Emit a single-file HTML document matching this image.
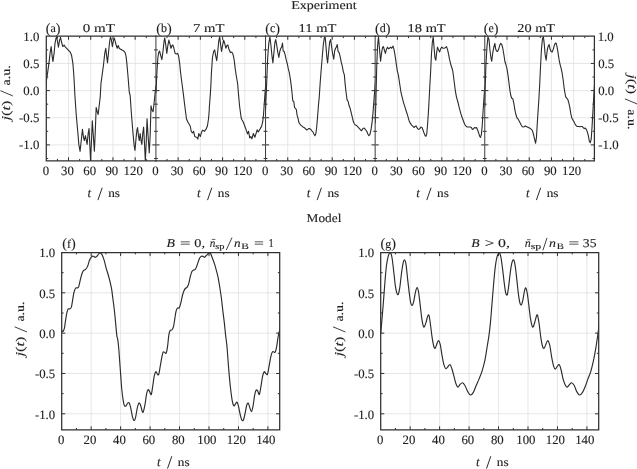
<!DOCTYPE html>
<html><head><meta charset="utf-8"><style>html,body{margin:0;padding:0;background:#fff;width:637px;height:469px;overflow:hidden}</style></head>
<body><svg width="637" height="469" viewBox="0 0 637 469" style="display:block;will-change:transform"><g font-family='"Liberation Serif", serif' fill="#1e1e1e" stroke="#1e1e1e" stroke-width="0.12" text-rendering="geometricPrecision"><path d="M68.52 36.20V160.85M90.74 36.20V160.85M112.96 36.20V160.85M135.18 36.20V160.85M46.30 63.45H155.92M46.30 90.60H155.92M46.30 117.75H155.92M46.30 144.90H155.92" stroke="#e1e1e1" stroke-width="0.85" fill="none"/><clipPath id="ct0"><rect x="46.30" y="33.20" width="109.62" height="127.65"/></clipPath><polyline clip-path="url(#ct0)" points="46.30,86.26 46.37,81.10 47.78,71.59 49.11,61.82 50.15,52.59 51.19,46.62 52.08,55.85 52.97,61.55 54.15,52.59 55.04,43.03 56.08,37.93 56.74,36.84 57.63,42.27 58.45,47.16 59.48,40.64 60.52,37.39 61.56,42.27 62.82,46.62 64.15,44.99 65.41,47.16 67.63,49.33 70.22,52.05 71.56,55.30 72.82,62.91 73.70,73.22 74.52,87.34 74.89,95.49 76.22,114.49 77.63,130.24 78.82,144.36 80.07,151.42 81.26,140.56 82.44,129.42 83.48,137.30 84.37,140.56 85.41,135.67 86.30,140.01 87.11,144.36 88.15,133.50 89.04,128.61 89.70,142.46 90.59,161.19 91.41,142.46 92.30,120.74 93.18,133.50 94.37,151.14 95.41,128.61 96.15,107.43 97.11,111.23 98.15,114.49 99.18,105.80 100.22,97.12 100.96,83.54 102.15,74.85 103.55,64.54 104.74,53.40 105.78,48.25 106.44,54.22 107.48,62.91 108.52,52.59 109.55,42.27 110.44,36.84 111.33,39.56 112.37,46.62 113.41,40.64 114.22,37.93 115.11,41.19 116.15,44.99 117.18,48.25 118.22,45.53 119.26,48.25 120.66,49.33 122.00,49.88 123.70,50.96 125.11,52.59 126.00,55.85 126.81,62.91 128.07,77.02 129.26,92.23 130.14,95.49 131.48,114.49 132.88,131.87 134.07,144.90 134.96,150.33 135.85,140.56 136.88,130.24 137.55,127.52 138.44,135.67 139.25,140.56 140.14,133.50 141.03,140.56 141.85,144.36 142.74,133.50 143.62,126.98 144.44,142.46 145.33,161.19 146.22,142.46 147.03,118.84 147.92,133.50 149.25,153.04 150.14,135.67 151.03,105.80 152.07,110.15 153.11,111.78 154.14,102.55 155.18,92.23 155.99,85.17" stroke="#2b2b2b" stroke-width="1.1" fill="none" stroke-linejoin="round"/><path d="M57.41 160.85v-1.9M57.41 36.20v1.9M68.52 160.85v-3.6M68.52 36.20v3.6M79.63 160.85v-1.9M79.63 36.20v1.9M90.74 160.85v-3.6M90.74 36.20v3.6M101.85 160.85v-1.9M101.85 36.20v1.9M112.96 160.85v-3.6M112.96 36.20v3.6M124.07 160.85v-1.9M124.07 36.20v1.9M135.18 160.85v-3.6M135.18 36.20v3.6M146.29 160.85v-1.9M146.29 36.20v1.9M46.30 158.47h1.9M155.92 158.47h-1.9M46.30 144.90h3.6M155.92 144.90h-3.6M46.30 131.32h1.9M155.92 131.32h-1.9M46.30 117.75h3.6M155.92 117.75h-3.6M46.30 104.17h1.9M155.92 104.17h-1.9M46.30 90.60h3.6M155.92 90.60h-3.6M46.30 77.02h1.9M155.92 77.02h-1.9M46.30 63.45h3.6M155.92 63.45h-3.6M46.30 49.88h1.9M155.92 49.88h-1.9" stroke="#303030" stroke-width="1.0" fill="none"/><path d="M46.30 36.20H155.92M46.30 160.85H155.92M46.30 36.20V160.85" stroke="#303030" stroke-width="1.25" fill="none" stroke-linecap="square"/><path d="M155.92 36.20V160.85" stroke="#303030" stroke-width="0.95" fill="none"/><text x="45.90" y="175.2" text-anchor="middle" font-size="12.8">0</text><text x="67.42" y="175.2" text-anchor="middle" font-size="12.8">30</text><text x="89.64" y="175.2" text-anchor="middle" font-size="12.8">60</text><text x="111.86" y="175.2" text-anchor="middle" font-size="12.8">90</text><text x="133.18" y="175.2" text-anchor="middle" font-size="12.8">120</text><text x="87.41" y="197.30" font-size="13" font-style="italic">t</text><path d="M97.91 200.10L102.21 187.70" stroke="#1e1e1e" stroke-width="0.95"/><text x="108.21" y="197.30" font-size="12" textLength="11.8" lengthAdjust="spacingAndGlyphs">ns</text><path d="M178.14 36.20V160.85M200.36 36.20V160.85M222.58 36.20V160.85M244.80 36.20V160.85M155.92 63.45H265.54M155.92 90.60H265.54M155.92 117.75H265.54M155.92 144.90H265.54" stroke="#e1e1e1" stroke-width="0.85" fill="none"/><clipPath id="ct1"><rect x="155.92" y="33.20" width="109.62" height="127.65"/></clipPath><polyline clip-path="url(#ct1)" points="155.92,93.31 156.14,88.97 156.96,71.59 157.85,57.75 158.73,52.59 159.55,50.96 160.81,55.85 161.85,59.65 163.03,50.96 164.07,41.19 164.73,37.93 165.62,43.90 166.81,53.40 167.84,45.53 168.88,40.10 169.92,43.90 170.96,48.25 171.99,45.53 172.88,44.99 173.92,48.25 175.10,53.40 176.51,53.95 177.70,53.40 178.58,55.85 179.62,62.91 180.66,73.22 181.99,83.54 183.40,94.40 184.58,104.17 185.47,111.23 186.51,119.00 187.99,122.31 190.21,126.00 191.32,131.60 192.51,132.95 193.62,131.32 194.73,136.48 195.77,136.92 196.81,137.24 197.84,139.09 198.81,133.50 200.29,136.48 201.77,131.60 202.88,130.08 204.36,131.32 205.92,129.42 207.40,126.00 208.51,119.00 209.25,109.99 209.32,107.43 210.36,93.86 210.88,85.17 211.40,73.22 212.43,57.75 213.62,51.50 214.66,49.88 215.69,55.85 216.73,60.73 217.77,50.96 218.80,40.64 219.69,36.84 220.51,43.90 221.54,51.50 222.58,45.53 223.62,40.10 224.65,43.09 225.84,48.25 226.95,45.53 227.91,44.99 228.95,49.33 230.36,52.59 231.77,52.05 232.95,54.22 234.14,59.65 235.17,68.34 236.43,76.75 237.62,83.54 238.51,94.40 239.54,105.80 241.10,117.48 241.91,119.70 243.39,122.31 245.17,127.20 246.28,130.18 247.47,133.88 248.58,131.32 249.69,138.00 250.80,136.48 251.91,138.82 253.39,133.50 254.87,137.30 257.17,129.80 258.28,131.98 259.76,129.42 261.69,126.11 262.80,121.23 263.54,114.49 264.21,104.17 265.24,90.06 266.13,81.37" stroke="#2b2b2b" stroke-width="1.1" fill="none" stroke-linejoin="round"/><path d="M167.03 160.85v-1.9M167.03 36.20v1.9M178.14 160.85v-3.6M178.14 36.20v3.6M189.25 160.85v-1.9M189.25 36.20v1.9M200.36 160.85v-3.6M200.36 36.20v3.6M211.47 160.85v-1.9M211.47 36.20v1.9M222.58 160.85v-3.6M222.58 36.20v3.6M233.69 160.85v-1.9M233.69 36.20v1.9M244.80 160.85v-3.6M244.80 36.20v3.6M255.91 160.85v-1.9M255.91 36.20v1.9M155.92 158.47h1.9M265.54 158.47h-1.9M155.92 144.90h3.6M265.54 144.90h-3.6M155.92 131.32h1.9M265.54 131.32h-1.9M155.92 117.75h3.6M265.54 117.75h-3.6M155.92 104.17h1.9M265.54 104.17h-1.9M155.92 90.60h3.6M265.54 90.60h-3.6M155.92 77.02h1.9M265.54 77.02h-1.9M155.92 63.45h3.6M265.54 63.45h-3.6M155.92 49.88h1.9M265.54 49.88h-1.9" stroke="#303030" stroke-width="1.0" fill="none"/><path d="M155.92 36.20H265.54M155.92 160.85H265.54" stroke="#303030" stroke-width="1.25" fill="none" stroke-linecap="square"/><path d="M265.54 36.20V160.85" stroke="#303030" stroke-width="0.95" fill="none"/><text x="155.52" y="175.2" text-anchor="middle" font-size="12.8">0</text><text x="177.04" y="175.2" text-anchor="middle" font-size="12.8">30</text><text x="199.26" y="175.2" text-anchor="middle" font-size="12.8">60</text><text x="221.48" y="175.2" text-anchor="middle" font-size="12.8">90</text><text x="242.80" y="175.2" text-anchor="middle" font-size="12.8">120</text><text x="197.03" y="197.30" font-size="13" font-style="italic">t</text><path d="M207.53 200.10L211.83 187.70" stroke="#1e1e1e" stroke-width="0.95"/><text x="217.83" y="197.30" font-size="12" textLength="11.8" lengthAdjust="spacingAndGlyphs">ns</text><path d="M287.76 36.20V160.85M309.98 36.20V160.85M332.20 36.20V160.85M354.42 36.20V160.85M265.54 63.45H375.16M265.54 90.60H375.16M265.54 117.75H375.16M265.54 144.90H375.16" stroke="#e1e1e1" stroke-width="0.85" fill="none"/><clipPath id="ct2"><rect x="265.54" y="33.20" width="109.62" height="127.65"/></clipPath><polyline clip-path="url(#ct2)" points="265.17,117.75 265.59,107.98 266.65,83.54 267.69,57.75 268.72,43.90 269.91,36.84 270.95,45.53 271.98,55.85 272.87,62.91 273.91,52.59 274.95,42.27 275.76,39.56 276.80,45.53 277.84,52.59 278.87,57.48 279.91,50.96 280.80,48.25 281.61,47.16 282.50,43.09 283.17,50.96 284.21,51.50 285.24,55.30 286.28,60.19 287.32,63.99 288.35,68.88 289.39,73.22 290.28,78.65 291.17,85.17 291.98,92.23 292.57,98.74 292.87,100.92 293.76,101.46 294.57,107.43 295.46,108.52 296.35,109.60 297.17,115.58 298.06,118.29 298.94,122.64 299.76,123.72 300.65,125.08 301.83,125.89 302.87,126.98 304.06,127.52 305.31,128.61 306.65,129.97 307.68,129.42 308.72,128.61 309.76,128.61 310.80,129.42 311.83,130.78 312.87,131.87 313.91,134.04 314.94,135.67 315.83,133.77 316.72,126.98 317.54,117.21 318.42,105.80 319.24,97.12 320.13,83.54 321.16,69.97 322.20,57.75 323.24,45.53 324.28,37.93 325.16,36.84 326.05,47.16 326.87,57.75 327.61,62.91 328.57,52.59 329.61,42.27 330.65,39.56 331.68,47.16 332.72,54.22 333.76,59.11 334.65,50.96 335.53,48.25 336.35,47.16 337.24,44.45 338.13,51.50 339.16,52.59 340.20,56.93 341.24,62.09 342.27,66.16 343.31,71.59 344.35,74.85 345.16,84.08 346.05,92.23 347.09,99.83 348.13,101.46 349.16,105.80 350.20,108.52 351.24,112.86 352.27,117.21 353.31,121.55 354.35,123.72 355.38,125.08 356.42,125.35 357.46,126.44 358.49,127.52 359.53,128.61 360.57,129.97 361.61,130.78 362.64,128.88 363.68,128.07 364.72,128.61 365.75,129.97 366.79,131.32 367.83,134.04 368.86,135.67 369.90,134.58 370.94,130.24 371.98,123.18 373.01,112.86 374.05,98.74 375.09,85.17 375.90,74.31" stroke="#2b2b2b" stroke-width="1.1" fill="none" stroke-linejoin="round"/><path d="M276.65 160.85v-1.9M276.65 36.20v1.9M287.76 160.85v-3.6M287.76 36.20v3.6M298.87 160.85v-1.9M298.87 36.20v1.9M309.98 160.85v-3.6M309.98 36.20v3.6M321.09 160.85v-1.9M321.09 36.20v1.9M332.20 160.85v-3.6M332.20 36.20v3.6M343.31 160.85v-1.9M343.31 36.20v1.9M354.42 160.85v-3.6M354.42 36.20v3.6M365.53 160.85v-1.9M365.53 36.20v1.9M265.54 158.47h1.9M375.16 158.47h-1.9M265.54 144.90h3.6M375.16 144.90h-3.6M265.54 131.32h1.9M375.16 131.32h-1.9M265.54 117.75h3.6M375.16 117.75h-3.6M265.54 104.17h1.9M375.16 104.17h-1.9M265.54 90.60h3.6M375.16 90.60h-3.6M265.54 77.02h1.9M375.16 77.02h-1.9M265.54 63.45h3.6M375.16 63.45h-3.6M265.54 49.88h1.9M375.16 49.88h-1.9" stroke="#303030" stroke-width="1.0" fill="none"/><path d="M265.54 36.20H375.16M265.54 160.85H375.16" stroke="#303030" stroke-width="1.25" fill="none" stroke-linecap="square"/><path d="M375.16 36.20V160.85" stroke="#303030" stroke-width="0.95" fill="none"/><text x="265.14" y="175.2" text-anchor="middle" font-size="12.8">0</text><text x="286.66" y="175.2" text-anchor="middle" font-size="12.8">30</text><text x="308.88" y="175.2" text-anchor="middle" font-size="12.8">60</text><text x="331.10" y="175.2" text-anchor="middle" font-size="12.8">90</text><text x="352.42" y="175.2" text-anchor="middle" font-size="12.8">120</text><text x="306.65" y="197.30" font-size="13" font-style="italic">t</text><path d="M317.15 200.10L321.45 187.70" stroke="#1e1e1e" stroke-width="0.95"/><text x="327.45" y="197.30" font-size="12" textLength="11.8" lengthAdjust="spacingAndGlyphs">ns</text><path d="M397.38 36.20V160.85M419.60 36.20V160.85M441.82 36.20V160.85M464.04 36.20V160.85M375.16 63.45H484.78M375.16 90.60H484.78M375.16 117.75H484.78M375.16 144.90H484.78" stroke="#e1e1e1" stroke-width="0.85" fill="none"/><clipPath id="ct3"><rect x="375.16" y="33.20" width="109.62" height="127.65"/></clipPath><polyline clip-path="url(#ct3)" points="375.16,123.18 375.90,100.92 376.72,66.16 377.60,45.53 378.49,36.84 379.53,49.33 380.57,61.28 381.60,52.59 382.64,47.16 383.46,46.62 384.34,49.88 385.38,53.40 386.42,49.33 387.46,47.16 388.49,48.79 389.53,48.25 390.57,47.16 391.75,48.25 393.01,46.07 393.97,49.33 394.86,54.22 395.75,60.19 396.57,66.16 397.45,71.59 398.34,74.85 399.16,80.28 400.05,86.26 400.94,92.23 402.12,97.12 403.53,102.55 405.08,107.43 406.42,111.78 407.82,116.12 409.01,120.47 410.27,123.18 411.60,125.08 413.01,126.44 414.19,127.52 415.08,126.44 415.97,125.89 416.79,127.25 417.82,128.88 418.86,129.42 419.90,128.61 420.93,126.98 421.97,127.52 423.01,129.97 424.04,132.95 425.08,135.67 425.97,136.21 426.79,133.77 427.67,123.18 428.56,109.60 429.01,101.46 429.75,87.34 430.64,71.59 431.45,54.22 432.34,42.27 433.23,36.84 434.04,47.16 434.93,57.75 435.82,60.19 436.64,52.59 437.52,47.16 438.56,49.88 439.60,52.05 440.64,48.79 441.82,47.16 443.01,48.25 444.12,48.25 445.30,47.70 446.49,46.62 447.52,49.33 448.56,54.22 449.60,59.65 450.63,63.99 451.67,67.25 452.71,70.51 453.60,77.02 454.41,83.54 455.30,90.60 456.49,97.12 457.89,102.00 459.30,107.98 460.63,112.86 462.04,117.21 463.45,121.01 464.63,124.27 465.82,125.89 466.86,126.98 468.04,126.98 469.08,126.98 470.34,126.98 471.37,127.52 472.41,129.42 473.45,128.88 474.48,127.52 475.52,128.07 476.56,127.52 477.60,129.97 478.63,132.95 479.67,136.21 480.48,137.30 481.37,134.58 482.26,125.08 483.08,111.23 484.11,95.49 485.00,85.17" stroke="#2b2b2b" stroke-width="1.1" fill="none" stroke-linejoin="round"/><path d="M386.27 160.85v-1.9M386.27 36.20v1.9M397.38 160.85v-3.6M397.38 36.20v3.6M408.49 160.85v-1.9M408.49 36.20v1.9M419.60 160.85v-3.6M419.60 36.20v3.6M430.71 160.85v-1.9M430.71 36.20v1.9M441.82 160.85v-3.6M441.82 36.20v3.6M452.93 160.85v-1.9M452.93 36.20v1.9M464.04 160.85v-3.6M464.04 36.20v3.6M475.15 160.85v-1.9M475.15 36.20v1.9M375.16 158.47h1.9M484.78 158.47h-1.9M375.16 144.90h3.6M484.78 144.90h-3.6M375.16 131.32h1.9M484.78 131.32h-1.9M375.16 117.75h3.6M484.78 117.75h-3.6M375.16 104.17h1.9M484.78 104.17h-1.9M375.16 90.60h3.6M484.78 90.60h-3.6M375.16 77.02h1.9M484.78 77.02h-1.9M375.16 63.45h3.6M484.78 63.45h-3.6M375.16 49.88h1.9M484.78 49.88h-1.9" stroke="#303030" stroke-width="1.0" fill="none"/><path d="M375.16 36.20H484.78M375.16 160.85H484.78" stroke="#303030" stroke-width="1.25" fill="none" stroke-linecap="square"/><path d="M484.78 36.20V160.85" stroke="#303030" stroke-width="0.95" fill="none"/><text x="374.76" y="175.2" text-anchor="middle" font-size="12.8">0</text><text x="396.28" y="175.2" text-anchor="middle" font-size="12.8">30</text><text x="418.50" y="175.2" text-anchor="middle" font-size="12.8">60</text><text x="440.72" y="175.2" text-anchor="middle" font-size="12.8">90</text><text x="462.04" y="175.2" text-anchor="middle" font-size="12.8">120</text><text x="416.27" y="197.30" font-size="13" font-style="italic">t</text><path d="M426.77 200.10L431.07 187.70" stroke="#1e1e1e" stroke-width="0.95"/><text x="437.07" y="197.30" font-size="12" textLength="11.8" lengthAdjust="spacingAndGlyphs">ns</text><path d="M507.00 36.20V160.85M529.22 36.20V160.85M551.44 36.20V160.85M573.66 36.20V160.85M484.78 63.45H594.40M484.78 90.60H594.40M484.78 117.75H594.40M484.78 144.90H594.40" stroke="#e1e1e1" stroke-width="0.85" fill="none"/><clipPath id="ct4"><rect x="484.78" y="33.20" width="109.62" height="127.65"/></clipPath><polyline clip-path="url(#ct4)" points="484.78,106.89 485.00,92.23 485.89,66.16 486.93,47.16 487.96,36.84 489.00,39.56 490.04,50.96 491.08,58.56 491.74,61.28 492.78,52.59 493.82,47.16 494.85,43.36 495.74,49.33 496.56,50.96 497.59,51.50 498.63,49.33 499.67,45.53 500.70,43.36 501.74,44.45 502.78,48.25 503.82,54.22 504.85,61.28 505.89,64.54 506.93,68.34 507.96,74.85 509.00,83.00 510.04,91.14 510.93,96.03 511.74,98.20 512.78,98.74 513.81,103.09 514.85,109.60 515.89,114.49 516.93,117.75 517.96,118.84 519.00,120.74 520.04,122.64 521.07,124.81 522.11,126.44 523.15,126.98 524.18,126.71 525.22,125.89 526.26,126.44 527.29,126.98 528.33,127.52 529.37,128.07 530.41,128.61 531.44,129.42 532.48,130.78 533.52,134.58 534.55,138.93 535.59,143.27 536.48,137.30 537.29,123.18 538.18,109.60 538.92,98.74 539.74,83.54 540.63,64.54 541.44,49.33 542.48,38.74 543.37,36.84 544.26,43.90 545.07,54.22 546.11,60.19 547.14,50.96 548.03,46.62 549.07,44.45 550.11,49.33 551.14,51.50 552.18,52.05 553.22,49.33 554.26,45.53 555.29,43.36 556.11,43.09 557.00,46.62 558.03,52.59 559.07,59.65 560.11,64.54 561.14,68.34 562.18,73.22 563.22,80.28 564.25,88.97 564.92,92.77 565.66,96.84 566.70,98.20 567.74,99.29 568.77,102.55 569.81,107.43 570.85,113.95 571.88,118.29 572.92,119.92 573.88,121.55 574.92,123.72 575.96,125.35 576.99,126.44 578.03,126.44 579.07,126.44 580.10,126.71 581.14,126.44 582.18,126.44 583.22,127.52 584.25,128.61 585.29,128.07 586.33,129.42 587.36,131.87 588.40,136.21 589.44,141.64 590.33,142.73 591.22,138.93 592.03,126.98 592.92,111.23 593.81,95.49 594.47,85.17" stroke="#2b2b2b" stroke-width="1.1" fill="none" stroke-linejoin="round"/><path d="M495.89 160.85v-1.9M495.89 36.20v1.9M507.00 160.85v-3.6M507.00 36.20v3.6M518.11 160.85v-1.9M518.11 36.20v1.9M529.22 160.85v-3.6M529.22 36.20v3.6M540.33 160.85v-1.9M540.33 36.20v1.9M551.44 160.85v-3.6M551.44 36.20v3.6M562.55 160.85v-1.9M562.55 36.20v1.9M573.66 160.85v-3.6M573.66 36.20v3.6M584.77 160.85v-1.9M584.77 36.20v1.9M484.78 158.47h1.9M594.40 158.47h-1.9M484.78 144.90h3.6M594.40 144.90h-3.6M484.78 131.32h1.9M594.40 131.32h-1.9M484.78 117.75h3.6M594.40 117.75h-3.6M484.78 104.17h1.9M594.40 104.17h-1.9M484.78 90.60h3.6M594.40 90.60h-3.6M484.78 77.02h1.9M594.40 77.02h-1.9M484.78 63.45h3.6M594.40 63.45h-3.6M484.78 49.88h1.9M594.40 49.88h-1.9" stroke="#303030" stroke-width="1.0" fill="none"/><path d="M484.78 36.20H594.40M484.78 160.85H594.40M594.40 36.20V160.85" stroke="#303030" stroke-width="1.25" fill="none" stroke-linecap="square"/><text x="484.38" y="175.2" text-anchor="middle" font-size="12.8">0</text><text x="505.90" y="175.2" text-anchor="middle" font-size="12.8">30</text><text x="528.12" y="175.2" text-anchor="middle" font-size="12.8">60</text><text x="550.34" y="175.2" text-anchor="middle" font-size="12.8">90</text><text x="571.66" y="175.2" text-anchor="middle" font-size="12.8">120</text><text x="525.89" y="197.30" font-size="13" font-style="italic">t</text><path d="M536.39 200.10L540.69 187.70" stroke="#1e1e1e" stroke-width="0.95"/><text x="546.69" y="197.30" font-size="12" textLength="11.8" lengthAdjust="spacingAndGlyphs">ns</text><text x="291.21" y="9.40" font-size="12" textLength="65.47" lengthAdjust="spacingAndGlyphs">Experiment</text><text x="82.87" y="32.00" font-size="12" textLength="32.14" lengthAdjust="spacingAndGlyphs">0 mT</text><text x="192.98" y="32.00" font-size="12" textLength="31.43" lengthAdjust="spacingAndGlyphs">7 mT</text><text x="298.59" y="32.00" font-size="12" textLength="37.77" lengthAdjust="spacingAndGlyphs">11 mT</text><text x="407.60" y="32.00" font-size="12" textLength="38.11" lengthAdjust="spacingAndGlyphs">18 mT</text><text x="517.30" y="32.00" font-size="12" textLength="37.70" lengthAdjust="spacingAndGlyphs">20 mT</text><text x="45.80" y="32.60" font-size="14.2">(<tspan font-size="12" dy="-0.6">a</tspan><tspan dy="0.6">)</tspan></text><text x="156.20" y="32.60" font-size="14.2">(<tspan font-size="12" dy="-0.6">b</tspan><tspan dy="0.6">)</tspan></text><text x="265.30" y="32.60" font-size="14.2">(<tspan font-size="12" dy="-0.6">c</tspan><tspan dy="0.6">)</tspan></text><text x="374.90" y="32.60" font-size="14.2">(<tspan font-size="12" dy="-0.6">d</tspan><tspan dy="0.6">)</tspan></text><text x="483.70" y="32.60" font-size="14.2">(<tspan font-size="12" dy="-0.6">e</tspan><tspan dy="0.6">)</tspan></text><text x="39.30" y="40.65" text-anchor="end" font-size="12.8">1.0</text><text x="597.70" y="40.65" font-size="12.8">1.0</text><text x="39.30" y="67.80" text-anchor="end" font-size="12.8">0.5</text><text x="598.20" y="67.80" font-size="12.8">0.5</text><text x="39.30" y="94.95" text-anchor="end" font-size="12.8">0.0</text><text x="598.20" y="94.95" font-size="12.8">0.0</text><text x="39.30" y="122.10" text-anchor="end" font-size="12.8">-0.5</text><text x="598.35" y="122.10" font-size="12.8">-0.5</text><text x="39.30" y="149.25" text-anchor="end" font-size="12.8">-1.0</text><text x="598.35" y="149.25" font-size="12.8">-1.0</text><g transform="translate(10.00,120.80) rotate(-90)"><text x="0.3" y="0" font-size="12" textLength="20.0" lengthAdjust="spacingAndGlyphs"><tspan font-style="italic">j</tspan>(<tspan font-style="italic">t</tspan>)</text><path d="M24.9 2.8L30.1 -9.6" stroke="#1e1e1e" stroke-width="0.85"/><text x="35.3" y="0" font-size="12" textLength="20.2" lengthAdjust="spacingAndGlyphs">a.u.</text></g><g transform="translate(627.80,74.00) rotate(90)"><text x="0.3" y="0" font-size="12" textLength="20.0" lengthAdjust="spacingAndGlyphs"><tspan font-style="italic">j</tspan>(<tspan font-style="italic">t</tspan>)</text><path d="M24.9 2.8L30.1 -9.6" stroke="#1e1e1e" stroke-width="0.85"/><text x="35.3" y="0" font-size="12" textLength="20.2" lengthAdjust="spacingAndGlyphs">a.u.</text></g><text x="306.62" y="222.10" font-size="12" textLength="34.78" lengthAdjust="spacingAndGlyphs">Model</text><path d="M91.16 252.50V429.90M120.62 252.50V429.90M150.08 252.50V429.90M179.54 252.50V429.90M209.00 252.50V429.90M238.46 252.50V429.90M267.92 252.50V429.90M61.70 292.82H279.70M61.70 333.15H279.70M61.70 373.47H279.70M61.70 413.80H279.70" stroke="#e1e1e1" stroke-width="0.85" fill="none"/><clipPath id="cb0"><rect x="61.70" y="249.50" width="218.00" height="180.40"/></clipPath><path clip-path="url(#cb0)" d="M61.60 330.41C61.81 330.60 62.42 331.86 62.88 331.54C63.34 331.21 63.91 330.30 64.35 328.47C64.79 326.64 65.11 323.15 65.53 320.57C65.95 317.99 66.41 314.92 66.86 312.99C67.30 311.05 67.69 309.63 68.18 308.95C68.67 308.28 69.26 309.29 69.80 308.95C70.34 308.62 70.93 308.55 71.42 306.94C71.91 305.33 72.31 301.76 72.75 299.28C73.19 296.79 73.58 293.90 74.07 292.02C74.56 290.14 75.15 288.66 75.69 287.99C76.23 287.31 76.80 288.25 77.31 287.99C77.83 287.72 78.27 287.81 78.79 286.37C79.30 284.93 79.87 281.51 80.41 279.36C80.95 277.21 81.51 274.92 82.03 273.47C82.54 272.02 82.91 271.32 83.50 270.65C84.09 269.97 84.90 270.11 85.56 269.44C86.23 268.76 86.84 268.09 87.48 266.61C88.12 265.14 88.73 262.20 89.39 260.56C90.05 258.93 90.79 257.50 91.45 256.77C92.12 256.05 92.73 256.12 93.37 256.21C94.01 256.30 94.62 257.42 95.28 257.34C95.95 257.26 96.68 256.40 97.35 255.73C98.01 255.05 98.72 253.78 99.26 253.31C99.80 252.84 100.10 252.63 100.59 252.90C101.08 253.17 101.59 253.64 102.21 254.92C102.82 256.20 103.63 258.41 104.27 260.56C104.91 262.72 105.40 265.50 106.04 267.82C106.67 270.15 107.44 272.23 108.10 274.52C108.76 276.80 109.42 279.09 110.01 281.53C110.60 283.98 111.14 286.24 111.63 289.20C112.12 292.15 112.49 295.67 112.96 299.28C113.43 302.88 113.97 306.60 114.43 310.81C114.90 315.02 115.34 320.26 115.76 324.52C116.18 328.78 116.62 334.00 116.94 336.38C117.26 338.76 117.38 336.86 117.67 338.80C117.97 340.73 118.36 344.12 118.70 347.99C119.05 351.86 119.39 357.33 119.74 362.02C120.08 366.71 120.45 371.81 120.77 376.14C121.09 380.46 121.26 384.00 121.65 387.99C122.04 391.98 122.66 397.13 123.12 400.09C123.59 403.05 123.96 404.79 124.45 405.74C124.94 406.68 125.53 406.18 126.07 405.74C126.61 405.29 127.15 403.52 127.69 403.07C128.23 402.63 128.77 402.09 129.31 403.07C129.85 404.05 130.39 406.64 130.93 408.96C131.47 411.29 132.01 415.10 132.55 417.03C133.09 418.95 133.65 420.49 134.17 420.49C134.69 420.49 135.13 419.08 135.64 417.03C136.16 414.97 136.72 410.48 137.26 408.15C137.80 405.83 138.34 403.61 138.88 403.07C139.42 402.54 139.96 403.60 140.50 404.93C141.04 406.26 141.66 409.93 142.12 411.06C142.59 412.19 142.81 412.86 143.30 411.70C143.79 410.55 144.53 407.05 145.07 404.12C145.61 401.19 146.03 396.54 146.54 394.12C147.06 391.70 147.62 389.95 148.16 389.60C148.70 389.26 149.27 391.22 149.78 392.02C150.30 392.83 150.77 395.43 151.26 394.44C151.75 393.46 152.24 389.19 152.73 386.14C153.22 383.09 153.69 378.54 154.20 376.14C154.72 373.73 155.28 372.01 155.82 371.70C156.36 371.39 156.95 373.85 157.44 374.28C157.93 374.71 158.30 375.63 158.77 374.28C159.24 372.94 159.73 369.09 160.24 366.22C160.76 363.34 161.37 359.39 161.86 357.02C162.35 354.66 162.72 352.77 163.19 352.02C163.65 351.27 164.15 352.34 164.66 352.51C165.18 352.67 165.79 354.07 166.28 352.99C166.77 351.91 167.16 349.17 167.61 346.05C168.05 342.94 168.49 336.89 168.93 334.28C169.37 331.67 169.77 331.12 170.26 330.41C170.75 329.70 171.34 330.65 171.88 330.00C172.42 329.36 173.01 328.43 173.50 326.54C173.99 324.64 174.38 321.25 174.82 318.63C175.27 316.01 175.66 312.60 176.15 310.81C176.64 309.02 177.25 308.39 177.77 307.91C178.29 307.42 178.73 308.74 179.24 307.91C179.76 307.07 180.32 305.02 180.86 302.91C181.40 300.80 181.94 297.33 182.48 295.24C183.02 293.16 183.59 291.57 184.10 290.41C184.62 289.24 185.06 288.77 185.58 288.23C186.09 287.69 186.66 288.00 187.20 287.18C187.74 286.36 188.30 285.06 188.82 283.31C189.33 281.56 189.77 278.66 190.29 276.69C190.81 274.73 191.37 272.65 191.91 271.53C192.45 270.42 193.02 270.32 193.53 270.00C194.05 269.68 194.49 270.16 195.00 269.60C195.52 269.03 196.08 267.93 196.62 266.61C197.16 265.30 197.70 263.16 198.24 261.69C198.78 260.23 199.35 258.74 199.86 257.82C200.38 256.91 200.82 256.45 201.34 256.21C201.85 255.97 202.42 256.18 202.96 256.37C203.50 256.56 204.06 257.45 204.58 257.34C205.09 257.23 205.54 256.24 206.05 255.73C206.57 255.22 207.16 254.74 207.67 254.27C208.19 253.80 208.63 252.97 209.14 252.90C209.66 252.84 210.18 252.86 210.76 253.87C211.35 254.88 212.02 257.16 212.68 258.95C213.34 260.74 214.08 262.50 214.74 264.60C215.40 266.69 216.07 269.25 216.66 271.53C217.25 273.82 217.76 275.70 218.28 278.31C218.79 280.92 219.23 283.90 219.75 287.18C220.27 290.46 220.85 294.05 221.37 297.99C221.89 301.93 222.35 306.70 222.84 310.81C223.33 314.92 223.87 318.75 224.32 322.67C224.76 326.58 225.20 331.59 225.49 334.28C225.79 336.97 225.81 336.51 226.08 338.80C226.35 341.08 226.77 344.12 227.11 347.99C227.46 351.86 227.78 357.33 228.15 362.02C228.51 366.71 228.93 371.81 229.32 376.14C229.72 380.46 230.04 384.00 230.50 387.99C230.97 391.98 231.58 397.13 232.12 400.09C232.66 403.05 233.20 405.06 233.74 405.74C234.28 406.41 234.82 404.73 235.36 404.12C235.90 403.52 236.47 401.77 236.98 402.11C237.50 402.44 237.94 404.14 238.46 406.14C238.97 408.14 239.54 411.86 240.08 414.12C240.62 416.38 241.16 418.69 241.70 419.69C242.24 420.68 242.78 421.02 243.32 420.09C243.86 419.16 244.40 416.52 244.94 414.12C245.48 411.73 246.02 407.58 246.56 405.74C247.10 403.89 247.66 402.85 248.18 403.07C248.69 403.30 249.11 405.67 249.65 407.11C250.19 408.54 250.85 411.86 251.42 411.70C251.98 411.54 252.50 408.91 253.04 406.14C253.58 403.37 254.14 397.76 254.66 395.09C255.18 392.41 255.62 390.76 256.13 390.09C256.65 389.42 257.21 390.33 257.75 391.06C258.29 391.78 258.83 395.26 259.37 394.44C259.91 393.62 260.45 389.19 260.99 386.14C261.53 383.09 262.07 378.54 262.61 376.14C263.15 373.73 263.69 372.14 264.23 371.70C264.77 371.26 265.31 373.04 265.85 373.47C266.39 373.91 266.93 375.49 267.47 374.28C268.01 373.07 268.55 369.09 269.09 366.22C269.63 363.34 270.17 359.39 270.71 357.02C271.25 354.66 271.80 352.86 272.34 352.02C272.88 351.19 273.46 352.02 273.96 352.02C274.45 352.02 274.81 353.02 275.28 352.02C275.75 351.03 276.31 348.39 276.75 346.05C277.20 343.72 277.44 340.68 277.93 337.99C278.42 335.30 279.16 332.07 279.70 329.92C280.24 327.77 280.93 325.89 281.17 325.08" stroke="#2b2b2b" stroke-width="1.15" fill="none"/><path d="M76.43 429.90v-1.9M76.43 252.50v1.9M91.16 429.90v-3.6M91.16 252.50v3.6M105.89 429.90v-1.9M105.89 252.50v1.9M120.62 429.90v-3.6M120.62 252.50v3.6M135.35 429.90v-1.9M135.35 252.50v1.9M150.08 429.90v-3.6M150.08 252.50v3.6M164.81 429.90v-1.9M164.81 252.50v1.9M179.54 429.90v-3.6M179.54 252.50v3.6M194.27 429.90v-1.9M194.27 252.50v1.9M209.00 429.90v-3.6M209.00 252.50v3.6M223.73 429.90v-1.9M223.73 252.50v1.9M238.46 429.90v-3.6M238.46 252.50v3.6M253.19 429.90v-1.9M253.19 252.50v1.9M267.92 429.90v-3.6M267.92 252.50v3.6M61.70 413.80h3.6M279.70 413.80h-3.6M61.70 393.64h1.9M279.70 393.64h-1.9M61.70 373.47h3.6M279.70 373.47h-3.6M61.70 353.31h1.9M279.70 353.31h-1.9M61.70 333.15h3.6M279.70 333.15h-3.6M61.70 312.99h1.9M279.70 312.99h-1.9M61.70 292.82h3.6M279.70 292.82h-3.6M61.70 272.66h1.9M279.70 272.66h-1.9" stroke="#303030" stroke-width="1.0" fill="none"/><path d="M61.70 252.50H279.70M61.70 429.90H279.70M61.70 252.50V429.90M279.70 252.50V429.90" stroke="#303030" stroke-width="1.25" fill="none" stroke-linecap="square"/><text x="61.20" y="444.2" text-anchor="middle" font-size="12.8">0</text><text x="89.96" y="444.2" text-anchor="middle" font-size="12.8">20</text><text x="119.42" y="444.2" text-anchor="middle" font-size="12.8">40</text><text x="148.88" y="444.2" text-anchor="middle" font-size="12.8">60</text><text x="178.34" y="444.2" text-anchor="middle" font-size="12.8">80</text><text x="206.90" y="444.2" text-anchor="middle" font-size="12.8">100</text><text x="236.36" y="444.2" text-anchor="middle" font-size="12.8">120</text><text x="265.82" y="444.2" text-anchor="middle" font-size="12.8">140</text><text x="157.00" y="465.80" font-size="13" font-style="italic">t</text><path d="M167.50 468.60L171.80 456.20" stroke="#1e1e1e" stroke-width="0.95"/><text x="177.80" y="465.80" font-size="12" textLength="11.8" lengthAdjust="spacingAndGlyphs">ns</text><text x="55.20" y="257.25" text-anchor="end" font-size="12.8">1.0</text><text x="55.20" y="297.57" text-anchor="end" font-size="12.8">0.5</text><text x="55.20" y="337.90" text-anchor="end" font-size="12.8">0.0</text><text x="55.20" y="378.22" text-anchor="end" font-size="12.8">-0.5</text><text x="55.20" y="418.55" text-anchor="end" font-size="12.8">-1.0</text><path d="M410.16 252.50V429.90M439.62 252.50V429.90M469.08 252.50V429.90M498.54 252.50V429.90M528.00 252.50V429.90M557.46 252.50V429.90M586.92 252.50V429.90M380.70 292.82H598.70M380.70 333.15H598.70M380.70 373.47H598.70M380.70 413.80H598.70" stroke="#e1e1e1" stroke-width="0.85" fill="none"/><clipPath id="cb1"><rect x="380.70" y="249.50" width="218.00" height="180.40"/></clipPath><path clip-path="url(#cb1)" d="M380.26 337.18C380.38 336.05 380.72 333.16 380.99 330.41C381.26 327.65 381.49 325.23 381.88 320.65C382.27 316.07 382.84 309.43 383.35 302.91C383.87 296.39 384.46 287.73 384.97 281.53C385.49 275.34 385.93 269.85 386.44 265.73C386.96 261.60 387.55 258.88 388.06 256.77C388.58 254.66 389.15 253.71 389.54 253.06C389.93 252.42 390.13 252.66 390.42 252.90C390.72 253.15 390.99 253.37 391.31 254.52C391.62 255.66 391.89 256.60 392.34 259.76C392.78 262.92 393.44 269.03 393.96 273.47C394.47 277.90 394.91 283.01 395.43 286.37C395.95 289.73 396.56 292.34 397.05 293.63C397.54 294.92 397.91 295.19 398.38 294.12C398.84 293.04 399.33 290.62 399.85 287.18C400.36 283.74 400.95 277.37 401.47 273.47C401.98 269.57 402.43 266.08 402.94 263.79C403.46 261.51 404.05 259.62 404.56 259.76C405.08 259.89 405.52 261.33 406.04 264.60C406.55 267.86 407.12 274.61 407.66 279.36C408.20 284.10 408.76 289.14 409.28 293.07C409.79 296.99 410.23 300.86 410.75 302.91C411.26 304.95 411.85 305.66 412.37 305.33C412.88 304.99 413.33 303.11 413.84 300.89C414.36 298.67 414.92 294.24 415.46 292.02C416.00 289.80 416.57 287.58 417.08 287.58C417.60 287.58 418.04 289.13 418.56 292.02C419.07 294.91 419.64 300.49 420.18 304.92C420.72 309.36 421.28 315.10 421.80 318.63C422.31 322.17 422.83 324.79 423.27 326.13C423.71 327.48 423.98 327.34 424.45 326.70C424.91 326.05 425.53 324.01 426.07 322.26C426.61 320.51 427.20 317.36 427.69 316.21C428.18 315.07 428.57 314.20 429.01 315.41C429.46 316.62 429.85 319.98 430.34 323.47C430.83 326.97 431.42 332.71 431.96 336.38C432.50 340.05 433.06 343.47 433.58 345.49C434.10 347.51 434.54 348.65 435.05 348.47C435.57 348.30 436.11 345.76 436.67 344.44C437.24 343.12 437.85 340.57 438.44 340.57C439.03 340.57 439.64 342.16 440.21 344.44C440.77 346.73 441.24 350.99 441.83 354.28C442.42 357.57 443.10 361.81 443.74 364.20C444.38 366.59 445.00 368.17 445.66 368.64C446.32 369.11 447.01 367.70 447.72 367.02C448.43 366.35 449.22 364.27 449.93 364.60C450.64 364.94 451.30 367.02 451.99 369.04C452.68 371.06 453.39 374.24 454.05 376.70C454.72 379.16 455.33 382.05 455.97 383.80C456.61 385.55 457.25 387.02 457.88 387.19C458.52 387.35 459.04 385.51 459.80 384.77C460.56 384.03 461.59 382.62 462.45 382.75C463.31 382.88 464.07 384.09 464.95 385.57C465.84 387.05 466.84 390.05 467.75 391.62C468.66 393.19 469.50 394.85 470.40 395.01C471.31 395.17 472.25 394.16 473.20 392.59C474.16 391.02 475.17 387.86 476.15 385.57C477.13 383.29 478.11 381.30 479.09 378.88C480.08 376.46 481.06 374.24 482.04 371.06C483.02 367.87 484.10 364.03 484.99 359.76C485.87 355.50 486.68 349.52 487.34 345.49C488.01 341.46 488.45 339.37 488.96 335.57C489.48 331.77 489.92 328.11 490.44 322.67C490.95 317.22 491.52 309.47 492.06 302.91C492.60 296.35 493.16 289.16 493.68 283.31C494.19 277.46 494.63 272.07 495.15 267.82C495.67 263.58 496.23 260.22 496.77 257.82C497.31 255.43 497.92 254.29 498.39 253.47C498.86 252.65 499.13 252.18 499.57 252.90C500.01 253.63 500.53 255.04 501.04 257.82C501.56 260.61 502.12 265.35 502.66 269.60C503.20 273.85 503.77 279.40 504.28 283.31C504.80 287.22 505.26 291.17 505.76 293.07C506.25 294.96 506.76 295.66 507.23 294.68C507.69 293.70 508.06 290.71 508.55 287.18C509.05 283.64 509.66 277.37 510.17 273.47C510.69 269.57 511.08 266.08 511.65 263.79C512.21 261.51 512.97 259.44 513.56 259.76C514.15 260.08 514.64 262.46 515.18 265.73C515.72 268.99 516.26 274.62 516.80 279.36C517.34 284.09 517.91 290.19 518.42 294.12C518.94 298.04 519.40 301.11 519.90 302.91C520.39 304.71 520.88 305.39 521.37 304.92C521.86 304.45 522.33 302.37 522.84 300.08C523.36 297.80 523.97 293.26 524.46 291.21C524.95 289.17 525.30 287.34 525.79 287.82C526.28 288.31 526.87 290.93 527.41 294.12C527.95 297.30 528.51 302.85 529.03 306.94C529.54 311.03 529.99 315.43 530.50 318.63C531.02 321.83 531.66 324.79 532.12 326.13C532.59 327.48 532.86 327.34 533.30 326.70C533.74 326.05 534.26 324.01 534.77 322.26C535.29 320.51 535.93 317.36 536.39 316.21C536.86 315.07 537.11 314.06 537.57 315.41C538.04 316.75 538.68 320.78 539.19 324.28C539.71 327.77 540.15 332.84 540.66 336.38C541.18 339.91 541.75 343.47 542.29 345.49C542.83 347.51 543.32 348.65 543.91 348.47C544.49 348.30 545.18 345.76 545.82 344.44C546.46 343.12 547.07 340.40 547.74 340.57C548.40 340.74 549.13 342.69 549.80 345.49C550.46 348.29 551.05 353.81 551.71 357.34C552.38 360.88 553.19 364.74 553.77 366.70C554.36 368.66 554.68 369.12 555.25 369.12C555.81 369.12 556.50 367.45 557.16 366.70C557.83 365.95 558.56 364.05 559.22 364.60C559.89 365.15 560.50 367.63 561.14 370.01C561.78 372.39 562.39 376.42 563.05 378.88C563.72 381.34 564.45 383.38 565.12 384.77C565.78 386.15 566.32 387.19 567.03 387.19C567.74 387.19 568.60 385.51 569.39 384.77C570.17 384.03 570.93 382.62 571.74 382.75C572.55 382.88 573.41 384.09 574.25 385.57C575.08 387.05 575.87 390.05 576.75 391.62C577.64 393.19 578.62 394.85 579.55 395.01C580.48 395.17 581.42 393.97 582.35 392.59C583.28 391.20 584.22 388.99 585.15 386.70C586.08 384.42 586.99 381.49 587.95 378.88C588.90 376.27 589.91 374.38 590.89 371.06C591.88 367.74 593.00 362.88 593.84 358.96C594.67 355.03 595.21 351.71 595.90 347.51C596.59 343.30 597.45 337.32 597.96 333.71C598.48 330.11 598.63 328.67 598.99 325.89C599.36 323.11 599.98 318.50 600.17 317.02" stroke="#2b2b2b" stroke-width="1.15" fill="none"/><path d="M395.43 429.90v-1.9M395.43 252.50v1.9M410.16 429.90v-3.6M410.16 252.50v3.6M424.89 429.90v-1.9M424.89 252.50v1.9M439.62 429.90v-3.6M439.62 252.50v3.6M454.35 429.90v-1.9M454.35 252.50v1.9M469.08 429.90v-3.6M469.08 252.50v3.6M483.81 429.90v-1.9M483.81 252.50v1.9M498.54 429.90v-3.6M498.54 252.50v3.6M513.27 429.90v-1.9M513.27 252.50v1.9M528.00 429.90v-3.6M528.00 252.50v3.6M542.73 429.90v-1.9M542.73 252.50v1.9M557.46 429.90v-3.6M557.46 252.50v3.6M572.19 429.90v-1.9M572.19 252.50v1.9M586.92 429.90v-3.6M586.92 252.50v3.6M380.70 413.80h3.6M598.70 413.80h-3.6M380.70 393.64h1.9M598.70 393.64h-1.9M380.70 373.47h3.6M598.70 373.47h-3.6M380.70 353.31h1.9M598.70 353.31h-1.9M380.70 333.15h3.6M598.70 333.15h-3.6M380.70 312.99h1.9M598.70 312.99h-1.9M380.70 292.82h3.6M598.70 292.82h-3.6M380.70 272.66h1.9M598.70 272.66h-1.9" stroke="#303030" stroke-width="1.0" fill="none"/><path d="M380.70 252.50H598.70M380.70 429.90H598.70M380.70 252.50V429.90M598.70 252.50V429.90" stroke="#303030" stroke-width="1.25" fill="none" stroke-linecap="square"/><text x="380.20" y="444.2" text-anchor="middle" font-size="12.8">0</text><text x="408.96" y="444.2" text-anchor="middle" font-size="12.8">20</text><text x="438.42" y="444.2" text-anchor="middle" font-size="12.8">40</text><text x="467.88" y="444.2" text-anchor="middle" font-size="12.8">60</text><text x="497.34" y="444.2" text-anchor="middle" font-size="12.8">80</text><text x="525.90" y="444.2" text-anchor="middle" font-size="12.8">100</text><text x="555.36" y="444.2" text-anchor="middle" font-size="12.8">120</text><text x="584.82" y="444.2" text-anchor="middle" font-size="12.8">140</text><text x="476.00" y="465.80" font-size="13" font-style="italic">t</text><path d="M486.50 468.60L490.80 456.20" stroke="#1e1e1e" stroke-width="0.95"/><text x="496.80" y="465.80" font-size="12" textLength="11.8" lengthAdjust="spacingAndGlyphs">ns</text><text x="374.20" y="257.25" text-anchor="end" font-size="12.8">1.0</text><text x="374.20" y="297.57" text-anchor="end" font-size="12.8">0.5</text><text x="374.20" y="337.90" text-anchor="end" font-size="12.8">0.0</text><text x="374.20" y="378.22" text-anchor="end" font-size="12.8">-0.5</text><text x="374.20" y="418.55" text-anchor="end" font-size="12.8">-1.0</text><g transform="translate(24.20,356.90) rotate(-90)"><text x="0.3" y="0" font-size="12" textLength="20.0" lengthAdjust="spacingAndGlyphs"><tspan font-style="italic">j</tspan>(<tspan font-style="italic">t</tspan>)</text><path d="M24.9 2.8L30.1 -9.6" stroke="#1e1e1e" stroke-width="0.85"/><text x="35.3" y="0" font-size="12" textLength="20.2" lengthAdjust="spacingAndGlyphs">a.u.</text></g><g transform="translate(342.60,356.90) rotate(-90)"><text x="0.3" y="0" font-size="12" textLength="20.0" lengthAdjust="spacingAndGlyphs"><tspan font-style="italic">j</tspan>(<tspan font-style="italic">t</tspan>)</text><path d="M24.9 2.8L30.1 -9.6" stroke="#1e1e1e" stroke-width="0.85"/><text x="35.3" y="0" font-size="12" textLength="20.2" lengthAdjust="spacingAndGlyphs">a.u.</text></g><text x="62.30" y="248.10" font-size="14.2">(<tspan font-size="12" dy="-0.6">f</tspan><tspan dy="0.6">)</tspan></text><text x="380.40" y="248.10" font-size="14.2">(<tspan font-size="12" dy="-0.6">g</tspan><tspan dy="0.6">)</tspan></text><text x="166.60" y="247.00" font-size="12" textLength="8.41" lengthAdjust="spacingAndGlyphs"><tspan font-style="italic">B</tspan></text><text x="180.13" y="247.00" font-size="12" textLength="10.50" lengthAdjust="spacingAndGlyphs">=</text><text x="194.31" y="247.00" font-size="12" textLength="10.68" lengthAdjust="spacingAndGlyphs">0,</text><text x="209.63" y="247.00" font-size="12" textLength="5.64" lengthAdjust="spacingAndGlyphs"><tspan font-style="italic">n</tspan></text><text x="215.29" y="248.60" font-size="8.5" textLength="9.29" lengthAdjust="spacingAndGlyphs">sp</text><text x="234.05" y="247.00" font-size="12" textLength="6.60" lengthAdjust="spacingAndGlyphs"><tspan font-style="italic">n</tspan></text><text x="241.36" y="248.60" font-size="8.5" textLength="7.60" lengthAdjust="spacingAndGlyphs">B</text><text x="253.97" y="247.00" font-size="12" textLength="9.91" lengthAdjust="spacingAndGlyphs">=</text><text x="268.53" y="247.00" font-size="12" textLength="5.22" lengthAdjust="spacingAndGlyphs">1</text><text x="471.30" y="247.30" font-size="12" textLength="8.31" lengthAdjust="spacingAndGlyphs"><tspan font-style="italic">B</tspan></text><text x="484.80" y="247.30" font-size="12" textLength="9.55" lengthAdjust="spacingAndGlyphs">&gt;</text><text x="498.14" y="247.30" font-size="12" textLength="11.85" lengthAdjust="spacingAndGlyphs">0,</text><text x="524.79" y="247.30" font-size="12"><tspan font-style="italic">n</tspan></text><text x="530.65" y="248.90" font-size="8.5" textLength="10.59" lengthAdjust="spacingAndGlyphs">sp</text><text x="549.12" y="247.30" font-size="12" textLength="6.96" lengthAdjust="spacingAndGlyphs"><tspan font-style="italic">n</tspan></text><text x="556.79" y="248.90" font-size="8.5" textLength="7.15" lengthAdjust="spacingAndGlyphs">B</text><text x="568.51" y="247.30" font-size="12" textLength="10.73" lengthAdjust="spacingAndGlyphs">=</text><text x="582.83" y="247.30" font-size="12" textLength="13.64" lengthAdjust="spacingAndGlyphs">35</text><path d="M226.30 250.00L232.00 237.60" stroke="#1e1e1e" stroke-width="0.85"/><path d="M542.90 250.30L547.00 237.90" stroke="#1e1e1e" stroke-width="0.85"/><path d="M211.80 239.40h3.6" stroke="#1e1e1e" stroke-width="0.7"/><path d="M527.00 239.70h3.6" stroke="#1e1e1e" stroke-width="0.7"/></g></svg></body></html>
